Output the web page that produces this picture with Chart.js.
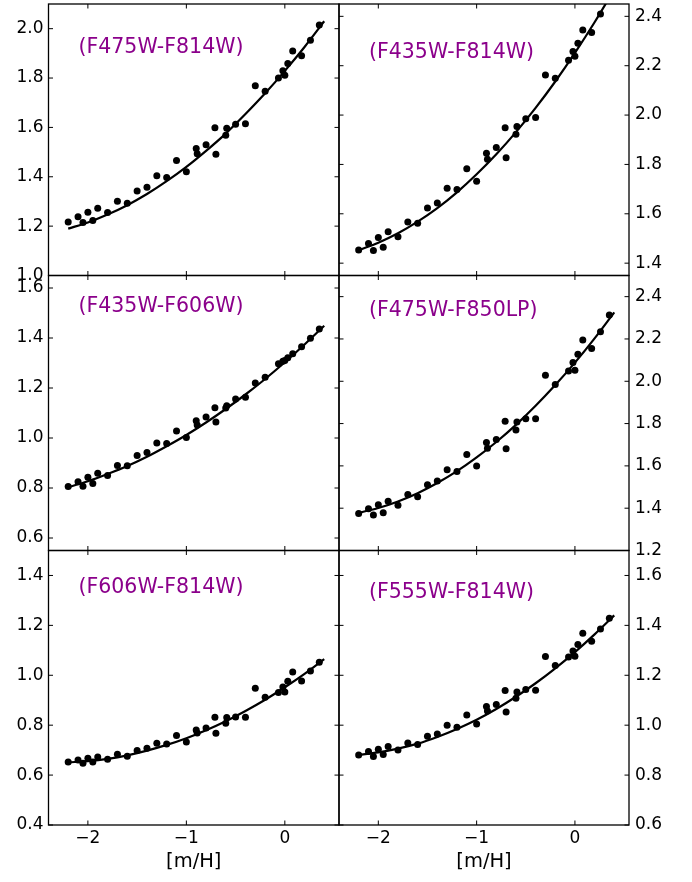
<!DOCTYPE html>
<html>
<head>
<meta charset="utf-8">
<script src="https://cdn.jsdelivr.net/npm/chart.js@4.4.0/dist/chart.umd.min.js"></script>
<style>
html, body { margin: 0; padding: 0; background: #ffffff; }
#wrap { position: relative; width: 692px; height: 882px; overflow: hidden; }
#wrap canvas { position: absolute; left: 0; top: 0; }
</style>
</head>
<body>
<div id="wrap"></div>
<script>
// ---------------- DATA ----------------
const metallicity = [-2.2, -2.1, -2.05, -2.0, -1.95, -1.9, -1.8, -1.7, -1.6, -1.5, -1.4, -1.3, -1.2, -1.1, -1.0,
  -0.9, -0.89, -0.8, -0.71, -0.70, -0.60, -0.59, -0.5, -0.4, -0.3, -0.2, -0.065, -0.02, 0.0, 0.03, 0.08, 0.17, 0.26, 0.35];

const colourF475W_F814W = [1.217, 1.238, 1.215, 1.256, 1.223, 1.272, 1.255, 1.301, 1.293, 1.342, 1.358, 1.404, 1.397, 1.466, 1.420,
  1.515, 1.493, 1.530, 1.599, 1.491, 1.568, 1.597, 1.613, 1.615, 1.769, 1.746, 1.800, 1.830, 1.811, 1.859, 1.910, 1.890, 1.953, 2.015];
const colourF435W_F814W = [1.453, 1.480, 1.451, 1.504, 1.464, 1.527, 1.507, 1.567, 1.562, 1.623, 1.644, 1.703, 1.698, 1.782, 1.732,
  1.845, 1.821, 1.869, 1.949, 1.827, 1.922, 1.954, 1.985, 1.990, 2.162, 2.149, 2.222, 2.258, 2.238, 2.291, 2.345, 2.335, 2.409, null];
const colourF435W_F606W = [0.806, 0.825, 0.807, 0.843, 0.818, 0.859, 0.850, 0.890, 0.889, 0.930, 0.942, 0.980, 0.978, 1.028, 1.002,
  1.069, 1.052, 1.084, 1.121, 1.064, 1.120, 1.129, 1.156, 1.163, 1.220, 1.243, 1.297, 1.307, 1.310, 1.321, 1.337, 1.365, 1.399, 1.436];
const colourF475W_F850LP = [1.375, 1.397, 1.368, 1.416, 1.379, 1.433, 1.414, 1.465, 1.454, 1.511, 1.528, 1.582, 1.574, 1.654, 1.599,
  1.710, 1.683, 1.725, 1.811, 1.681, 1.770, 1.808, 1.823, 1.823, 2.029, 1.985, 2.048, 2.089, 2.052, 2.128, 2.195, 2.155, 2.234, 2.313];
const colourF606W_F814W = [0.652, 0.660, 0.647, 0.667, 0.652, 0.672, 0.663, 0.684, 0.676, 0.699, 0.708, 0.728, 0.725, 0.759, 0.733,
  0.781, 0.769, 0.789, 0.832, 0.768, 0.808, 0.831, 0.833, 0.832, 0.948, 0.912, 0.931, 0.953, 0.933, 0.976, 1.013, 0.977, 1.017, 1.052];
const colourF555W_F814W = [0.881, 0.895, 0.875, 0.904, 0.883, 0.915, 0.901, 0.929, 0.923, 0.956, 0.965, 1.000, 0.992, 1.041, 1.005,
  1.075, 1.057, 1.083, 1.139, 1.053, 1.108, 1.133, 1.143, 1.140, 1.275, 1.239, 1.273, 1.297, 1.276, 1.323, 1.368, 1.336, 1.385, 1.429];

// fitted relations
const fitMetallicity = [-2.2, -2.0, -1.8, -1.6, -1.4, -1.2, -1.0, -0.8, -0.6, -0.4, -0.2, 0.0, 0.2, 0.4];
const fitF475W_F814W = [1.190, 1.215, 1.247, 1.285, 1.330, 1.382, 1.440, 1.505, 1.575, 1.654, 1.738, 1.829, 1.926, 2.030];
const fitF435W_F814W = [1.453, 1.483, 1.521, 1.568, 1.623, 1.687, 1.760, 1.841, 1.931, 2.029, 2.136, 2.252, 2.376, 2.509];
const fitF435W_F606W = [0.803, 0.827, 0.856, 0.888, 0.925, 0.967, 1.012, 1.062, 1.116, 1.174, 1.236, 1.303, 1.374, 1.449];
const fitF475W_F850LP = [1.378, 1.401, 1.432, 1.471, 1.519, 1.575, 1.640, 1.713, 1.794, 1.884, 1.982, 2.088, 2.203, 2.326];
const fitF606W_F814W = [0.651, 0.656, 0.665, 0.679, 0.698, 0.721, 0.748, 0.780, 0.816, 0.857, 0.902, 0.952, 1.006, 1.065];
const fitF555W_F814W = [0.881, 0.891, 0.906, 0.926, 0.953, 0.985, 1.022, 1.065, 1.114, 1.168, 1.228, 1.293, 1.364, 1.440];

const xTicks = [-2, -1, 0];
const yTicksF475W_F814W = [1.0, 1.2, 1.4, 1.6, 1.8, 2.0];
const yTicksF435W_F814W = [1.4, 1.6, 1.8, 2.0, 2.2, 2.4];
const yTicksF435W_F606W = [0.6, 0.8, 1.0, 1.2, 1.4, 1.6];
const yTicksF475W_F850LP = [1.2, 1.4, 1.6, 1.8, 2.0, 2.2, 2.4];
const yTicksF606W_F814W = [0.4, 0.6, 0.8, 1.0, 1.2, 1.4];
const yTicksF555W_F814W = [0.6, 0.8, 1.0, 1.2, 1.4, 1.6];

const panelLabels = ['(F475W-F814W)', '(F435W-F814W)', '(F435W-F606W)', '(F475W-F850LP)', '(F606W-F814W)', '(F555W-F814W)'];
const xAxisTitle = '[m/H]';

// ---------------- LAYOUT ----------------
const W = 692, H = 882;
const colX = [[48.5, 339], [339, 629]];
const rowY = [[1, 275.5], [275.5, 550.5], [550.5, 825]];
const xRange = [-2.4, 0.55];
const FONT = "'DejaVu Sans', 'Liberation Sans', sans-serif";
const LABEL_COLOR = '#8b008b';

const panels = [
  { label: panelLabels[0], pts: colourF475W_F814W, fit: fitF475W_F814W, yTicks: yTicksF475W_F814W, yMin: 1.0, yMax: 2.1, col: 0, row: 0, dx: 30, dy: 44 },
  { label: panelLabels[1], pts: colourF435W_F814W, fit: fitF435W_F814W, yTicks: yTicksF435W_F814W, yMin: 1.35, yMax: 2.45, col: 1, row: 0, dx: 30, dy: 49 },
  { label: panelLabels[2], pts: colourF435W_F606W, fit: fitF435W_F606W, yTicks: yTicksF435W_F606W, yMin: 0.55, yMax: 1.65, col: 0, row: 1, dx: 30, dy: 31 },
  { label: panelLabels[3], pts: colourF475W_F850LP, fit: fitF475W_F850LP, yTicks: yTicksF475W_F850LP, yMin: 1.2, yMax: 2.5, col: 1, row: 1, dx: 30, dy: 35.5 },
  { label: panelLabels[4], pts: colourF606W_F814W, fit: fitF606W_F814W, yTicks: yTicksF606W_F814W, yMin: 0.4, yMax: 1.5, col: 0, row: 2, dx: 30, dy: 37.5 },
  { label: panelLabels[5], pts: colourF555W_F814W, fit: fitF555W_F814W, yTicks: yTicksF555W_F814W, yMin: 0.6, yMax: 1.7, col: 1, row: 2, dx: 30, dy: 42.5 }
];

Chart.defaults.font.family = FONT;
Chart.defaults.color = '#000';

function fmtX(v) { return v < 0 ? '\u2212' + Math.abs(v) : String(v); }

function framePlugin(p) {
  return {
    id: 'frame' + p.row + p.col,
    afterDatasetsDraw(chart) {
      const { ctx, chartArea: { left, right, top, bottom }, scales: { x, y } } = chart;
      ctx.save();
      ctx.strokeStyle = '#000';
      ctx.lineWidth = 1.3;
      ctx.strokeRect(left, top, right - left, bottom - top);
      ctx.lineWidth = 1;
      const L = 4.5;
      ctx.beginPath();
      xTicks.forEach(v => {
        const px = x.getPixelForValue(v);
        ctx.moveTo(px, bottom); ctx.lineTo(px, bottom - L);
        ctx.moveTo(px, top); ctx.lineTo(px, top + L);
      });
      p.yTicks.forEach(v => {
        const py = y.getPixelForValue(v);
        ctx.moveTo(left, py); ctx.lineTo(left + L, py);
        ctx.moveTo(right, py); ctx.lineTo(right - L, py);
      });
      ctx.stroke();
      ctx.fillStyle = LABEL_COLOR;
      ctx.font = '20.5px ' + FONT;
      ctx.textAlign = 'left';
      ctx.textBaseline = 'middle';
      ctx.fillText(p.label, left + p.dx, top + p.dy);
      ctx.restore();
    }
  };
}

const wrap = document.getElementById('wrap');
panels.forEach(p => {
  const cv = document.createElement('canvas');
  cv.width = W; cv.height = H;
  cv.style.width = W + 'px'; cv.style.height = H + 'px';
  wrap.appendChild(cv);
  const [cx0, cx1] = colX[p.col];
  const [ry0, ry1] = rowY[p.row];
  const isBottom = p.row === 2;
  const yAxisW = p.col === 0 ? cx0 : W - cx1;
  const padding = {
    left: p.col === 0 ? 0 : cx0,
    right: p.col === 0 ? W - cx1 : 0,
    top: ry0,
    bottom: isBottom ? 0 : H - ry1
  };
  const scatterPts = metallicity.map((m, i) => ({ x: m, y: p.pts[i] })).filter(d => d.y !== null);
  const fitPts = fitMetallicity.map((m, i) => ({ x: m, y: p.fit[i] }));
  new Chart(cv, {
    data: {
      datasets: [
        { type: 'line', data: fitPts, borderColor: '#000', borderWidth: 2.2, pointRadius: 0, fill: false,
          cubicInterpolationMode: 'monotone', order: 1 },
        { type: 'scatter', data: scatterPts, pointRadius: 3.5, pointBackgroundColor: '#000',
          pointBorderColor: '#000', pointBorderWidth: 0, order: 0 }
      ]
    },
    options: {
      responsive: false,
      animation: false,
      devicePixelRatio: 1,
      layout: { padding },
      plugins: { legend: { display: false }, tooltip: { enabled: false } },
      events: [],
      scales: {
        x: {
          type: 'linear', min: xRange[0], max: xRange[1], position: 'bottom',
          display: isBottom,
          grid: { display: false, drawTicks: false },
          border: { display: false },
          ticks: { font: { size: 17 }, padding: 3, autoSkip: false, maxRotation: 0, callback: v => fmtX(v) },
          title: { display: isBottom, text: xAxisTitle, font: { size: 19.5 }, padding: { top: 0, bottom: 8 } },
          afterBuildTicks: s => { s.ticks = xTicks.map(v => ({ value: v })); },
          afterFit: s => { s.height = isBottom ? H - 825 : 0; s.paddingLeft = 0; s.paddingRight = 0; }
        },
        y: {
          type: 'linear', min: p.yMin, max: p.yMax, position: p.col === 0 ? 'left' : 'right',
          grid: { display: false, drawTicks: false },
          border: { display: false },
          ticks: { font: { size: 17 }, padding: p.col === 0 ? 5 : 6, autoSkip: false, callback: v => v.toFixed(1) },
          afterBuildTicks: s => { s.ticks = p.yTicks.map(v => ({ value: v })); },
          afterFit: s => { s.width = yAxisW; s.paddingTop = 0; s.paddingBottom = 0; }
        }
      }
    },
    plugins: [framePlugin(p)]
  });
});
</script>
</body>
</html>
